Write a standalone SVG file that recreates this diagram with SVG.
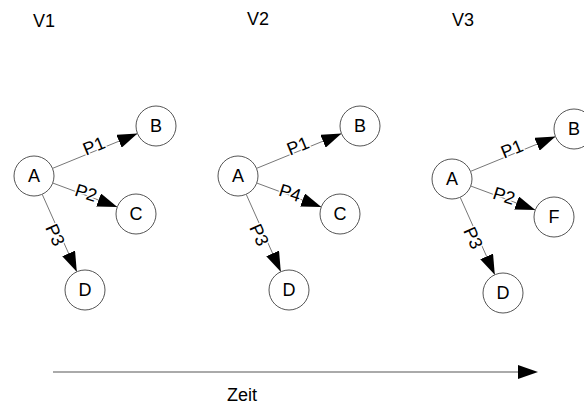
<svg xmlns="http://www.w3.org/2000/svg" width="584" height="407" viewBox="0 0 584 407">
  <style>
    .node circle { fill: #ffffff; stroke: #555555; stroke-width: 1; }
    .node text, .title, .elabel, .axis-label {
      font-family: "Liberation Sans", Arial, sans-serif; font-size: 18px; fill: #000000;
    }
    .node text { text-anchor: middle; dominant-baseline: central; }
    .edge { stroke: #777777; stroke-width: 1; fill: none; marker-end: url(#arrow); }
    .elabel { text-anchor: middle; dominant-baseline: central; stroke: #ffffff; stroke-width: 3; paint-order: stroke; stroke-linejoin: round; }
    .axis { stroke: #aaaaaa; stroke-width: 2; fill: none; marker-end: url(#arrowAxis); }
  </style>
  <defs>
    <marker id="arrow" markerUnits="userSpaceOnUse" markerWidth="20" markerHeight="14" refX="20" refY="7" orient="auto">
      <path d="M0,0 L20,7 L0,14 Z" fill="#000000"/>
    </marker>
    <marker id="arrowAxis" markerUnits="userSpaceOnUse" markerWidth="20" markerHeight="14" refX="2" refY="7" orient="auto">
      <path d="M0,0 L20,7 L0,14 Z" fill="#000000"/>
    </marker>
  </defs>

  <rect width="584" height="407" fill="#ffffff"/>

  <!-- version titles -->
  <text class="title" x="33" y="27">V1</text>
  <text class="title" x="247" y="25">V2</text>
  <text class="title" x="452" y="26">V3</text>

  <!-- connectors -->
  <g id="connectors">
    <!-- V1 -->
    <line class="edge" x1="52.5" y1="168.4" x2="137.5" y2="133.6"/>
    <line class="edge" x1="52.7" y1="183" x2="117.3" y2="207"/>
    <line class="edge" x1="42.2" y1="194.3" x2="76.8" y2="271.7"/>
    <!-- V2 -->
    <line class="edge" x1="256.5" y1="168.4" x2="341.5" y2="133.6"/>
    <line class="edge" x1="256.7" y1="183" x2="321.3" y2="207"/>
    <line class="edge" x1="246.2" y1="194.3" x2="280.8" y2="271.7"/>
    <!-- V3 -->
    <line class="edge" x1="470.5" y1="171.4" x2="555.5" y2="136.6"/>
    <line class="edge" x1="470.7" y1="186" x2="535.3" y2="210"/>
    <line class="edge" x1="460.2" y1="197.3" x2="494.8" y2="274.7"/>

    <!-- connector labels -->
    <text class="elabel" transform="translate(94,146) rotate(-22.3)">P1</text>
    <text class="elabel" transform="translate(86,193) rotate(18)">P2</text>
    <text class="elabel" transform="translate(55,235) rotate(65.9)">P3</text>

    <text class="elabel" transform="translate(298,146) rotate(-22.3)">P1</text>
    <text class="elabel" transform="translate(290,193) rotate(18)">P4</text>
    <text class="elabel" transform="translate(259,235) rotate(65.9)">P3</text>

    <text class="elabel" transform="translate(512,149) rotate(-22.3)">P1</text>
    <text class="elabel" transform="translate(504,196) rotate(18)">P2</text>
    <text class="elabel" transform="translate(473,238) rotate(65.9)">P3</text>

    <!-- time axis -->
    <line class="axis" x1="53" y1="372" x2="520" y2="372"/>
  </g>

  <!-- V1 nodes -->
  <g id="v1-A" class="node"><circle cx="34" cy="176" r="20"/><text x="34" y="176">A</text></g>
  <g id="v1-B" class="node"><circle cx="156" cy="126" r="20"/><text x="156" y="126">B</text></g>
  <g id="v1-C" class="node"><circle cx="136" cy="214" r="20"/><text x="136" y="214">C</text></g>
  <g id="v1-D" class="node"><circle cx="85" cy="290" r="20"/><text x="85" y="290">D</text></g>

  <!-- V2 nodes -->
  <g id="v2-A" class="node"><circle cx="238" cy="176" r="20"/><text x="238" y="176">A</text></g>
  <g id="v2-B" class="node"><circle cx="360" cy="126" r="20"/><text x="360" y="126">B</text></g>
  <g id="v2-C" class="node"><circle cx="340" cy="214" r="20"/><text x="340" y="214">C</text></g>
  <g id="v2-D" class="node"><circle cx="289" cy="290" r="20"/><text x="289" y="290">D</text></g>

  <!-- V3 nodes -->
  <g id="v3-A" class="node"><circle cx="452" cy="179" r="20"/><text x="452" y="179">A</text></g>
  <g id="v3-B" class="node"><circle cx="574" cy="129" r="20"/><text x="574" y="129">B</text></g>
  <g id="v3-F" class="node"><circle cx="554" cy="217" r="20"/><text x="554" y="217">F</text></g>
  <g id="v3-D" class="node"><circle cx="503" cy="293" r="20"/><text x="503" y="293">D</text></g>

  <!-- axis label -->
  <text class="axis-label" x="227" y="401">Zeit</text>
</svg>
